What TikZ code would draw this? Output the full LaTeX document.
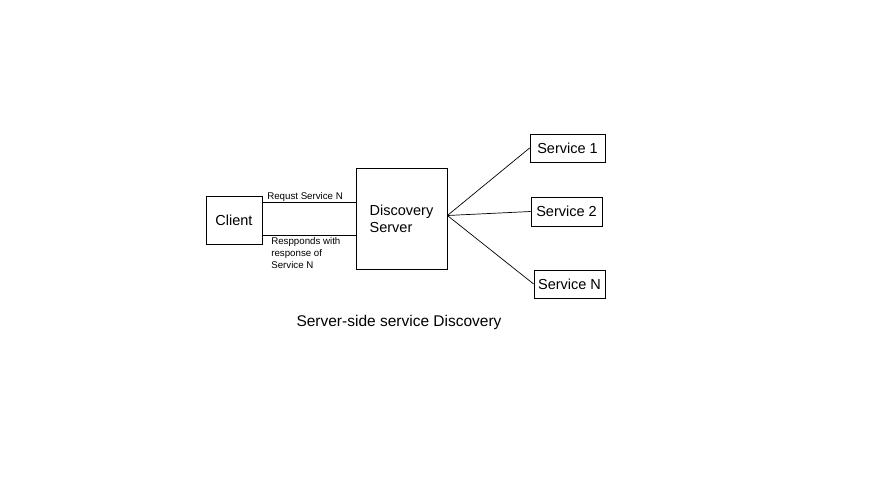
\documentclass[tikz,border=0pt]{standalone}
\usepackage{fontspec}
\setmainfont{Liberation Sans}
\tikzset{
  box/.style={draw,line width=0.8pt,inner sep=0pt,font=\fontsize{14.5}{17}\selectfont},
  small/.style={inner sep=0pt,font=\fontsize{9.7}{12}\selectfont,align=left},
}
\begin{document}
\begin{tikzpicture}[x=1pt,y=-1pt,line width=0.7pt]
      \useasboundingbox (0,0) rectangle (873,498);
      \node[box,minimum width=56pt,minimum height=48pt] (client) at (234,220) {Client};
      \node[box,minimum width=91pt,minimum height=101pt,align=left] (server) at (401.5,218.5) {Discovery\\Server};
      \node[box,minimum width=75pt,minimum height=28pt] (s1) at (567.5,148) {Service 1};
      \node[box,minimum width=71pt,minimum height=29pt] (s2) at (566.5,211.5) {Service 2};
      \node[box,minimum width=71pt,minimum height=28pt] (sn) at (569.5,284) {Service N};
      \draw ([yshift=-7pt]client.north east) -- ([yshift=-7pt]client.north east -| server.west);
      \draw ([yshift=9pt]client.south east) -- ([yshift=9pt]client.south east -| server.west);
      \node[small,anchor=south west] (req) at (267,202) {Requst Service N};
      \node[small,anchor=north west] (resp) at (271,237) {Respponds with\\response of\\Service N};
      \draw ([yshift=3pt]server.east) -- (s1.west);
      \draw ([yshift=3pt]server.east) -- (s2.west);
      \draw ([yshift=3pt]server.east) -- (sn.west);
      \node[font=\fontsize{15.5}{18}\selectfont] (title) at (399,322) {Server-side service Discovery};
    \end{tikzpicture}
\end{document}
